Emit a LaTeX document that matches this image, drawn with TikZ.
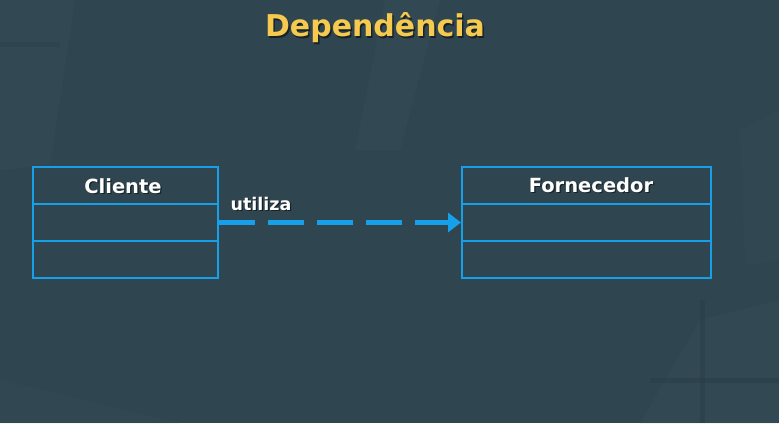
\documentclass[tikz,border=0pt]{standalone}
\usepackage{fontspec}
\setmainfont{DejaVu Sans}
\usetikzlibrary{arrows.meta}
\definecolor{slate}{RGB}{47,69,80}
\definecolor{slatelight}{RGB}{53,76,87}
\definecolor{slatedark}{RGB}{41,62,72}
\definecolor{umlblue}{RGB}{22,160,234}
\definecolor{titlegold}{RGB}{246,202,78}
\tikzset{
  classpart/.style={draw=umlblue, line width=2pt, rectangle, inner sep=0pt},
  classname/.style={text=white, font=\bfseries\fontsize{19.5}{22}\selectfont},
  shadowtext/.style={text=black, opacity=0.5},
  deparrow/.style={draw=umlblue, line width=4.4pt, dash pattern=on 36pt off 13pt,
    -{Triangle[length=13pt,width=19pt]}},
}
\begin{document}
\begin{tikzpicture}[x=1pt,y=-1pt]
  % slide background
  \fill[slate] (0,0) rectangle (779,423);
  \useasboundingbox (0,0) rectangle (779,423);
  % faint backdrop shapes
  \fill[slatelight, opacity=0.6] (0,0) -- (75,0) -- (50,165) -- (0,170) -- cycle;
  \fill[slatedark, opacity=0.4] (0,42) -- (60,42) -- (60,47) -- (0,47) -- cycle;
  \fill[slatelight, opacity=0.5] (385,0) -- (440,0) -- (400,150) -- (355,150) -- cycle;
  \fill[slatelight, opacity=0.5] (700,320) -- (779,300) -- (779,423) -- (640,423) -- cycle;
  \fill[slatedark, opacity=0.5] (650,378) -- (779,378) -- (779,383) -- (650,383) -- cycle;
  \fill[slatedark, opacity=0.5] (700,300) -- (705,300) -- (705,423) -- (700,423) -- cycle;
  \fill[slatelight, opacity=0.4] (740,130) -- (779,110) -- (779,260) -- (745,265) -- cycle;
  \fill[slatelight, opacity=0.4] (0,380) -- (180,423) -- (0,423) -- cycle;

  % title
  \node[shadowtext, font=\bfseries\fontsize{30}{32}\selectfont] at (376.5,29.5) {Dependência};
  \node[text=titlegold, font=\bfseries\fontsize{30}{32}\selectfont] (title) at (375,28) {Dependência};

  % class Cliente
  \node[classpart, minimum width=185pt, minimum height=37pt] (cliHead) at (125.5,185.5) {};
  \node[classpart, minimum width=185pt, minimum height=37pt] (cliAttr) at (125.5,222.5) {};
  \node[classpart, minimum width=185pt, minimum height=37pt] (cliOps)  at (125.5,259.5) {};
  \node[classname, shadowtext] at (124.2,187.2) {Cliente};
  \node[classname] (cliName) at (123,186) {Cliente};

  % class Fornecedor
  \node[classpart, minimum width=249pt, minimum height=37pt] (forHead) at (586.5,185.5) {};
  \node[classpart, minimum width=249pt, minimum height=37pt] (forAttr) at (586.5,222.5) {};
  \node[classpart, minimum width=249pt, minimum height=37pt] (forOps)  at (586.5,259.5) {};
  \node[classname, shadowtext] at (592.2,186.2) {Fornecedor};
  \node[classname] (forName) at (591,185) {Fornecedor};

  % dependency
  \draw[deparrow] (cliAttr.east) -- (forAttr.west);
  \node[shadowtext, font=\bfseries\fontsize{17.5}{20}\selectfont] at (262.2,205.2) {utiliza};
  \node[text=white, font=\bfseries\fontsize{17.5}{20}\selectfont] (depLabel) at (261,204) {utiliza};
\end{tikzpicture}
\end{document}
